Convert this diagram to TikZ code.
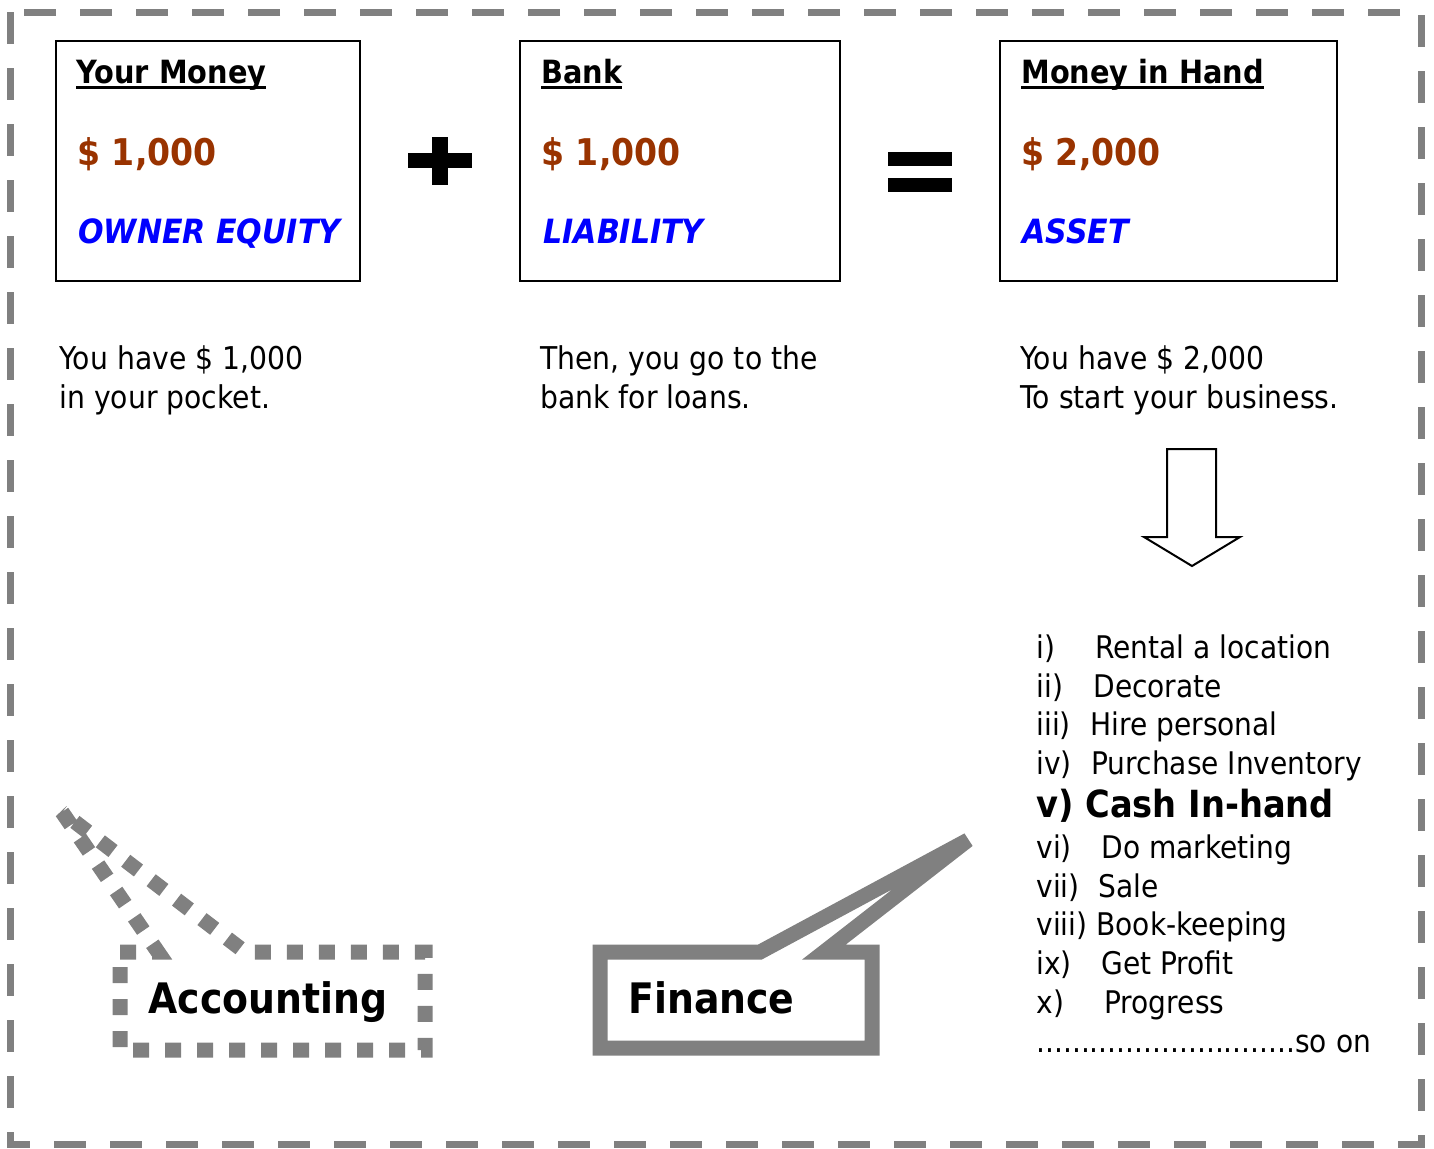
\documentclass[tikz,border=0pt]{standalone}
\usepackage{fontspec}
\setmainfont{DejaVu Sans}[FakeStretch=0.9]
\usepackage{xcolor}
\definecolor{cashbrown}{RGB}{153,51,0}
\definecolor{cashblue}{RGB}{0,0,255}
\definecolor{cashgray}{RGB}{128,128,128}
\newcommand{\ulined}[1]{\setbox0\hbox{#1}\rlap{\rule[-3pt]{\wd0}{1.5pt}}\box0}
\tikzset{
  moneybox/.style={rectangle, draw=black, line width=1pt, inner sep=0pt, minimum height=120pt},
  boxhead/.style={anchor=base west, inner sep=0pt, font=\fontsize{16}{19}\selectfont\bfseries},
  amount/.style={anchor=base west, inner sep=0pt, text=cashbrown, font=\fontsize{18.4}{21}\selectfont\bfseries},
  kind/.style={anchor=base west, inner sep=0pt, text=cashblue, font=\fontsize{16.7}{20}\selectfont\bfseries\itshape},
  note/.style={anchor=base west, inner sep=0pt, align=left, font=\fontsize{15.7}{19.3}\selectfont},
  listtext/.style={anchor=base west, inner sep=0pt, font=\fontsize{15.6}{19}\selectfont},
  calltext/.style={anchor=base west, inner sep=0pt, font=\fontsize{21}{25}\selectfont\bfseries},
  callline/.style={cashgray, line width=7.5pt}
}

\begin{document}
\begin{tikzpicture}[x=0.5pt, y=-0.5pt]
\useasboundingbox (0,0) rectangle (1434,1148);
% frame round everything
\draw[cashgray, line width=3.5pt, dash pattern=on 16pt off 12pt] (10,12) rectangle (1421,1144);

% the three boxes
\node[moneybox, minimum width=152pt] (own) at (208,161) {};
\node[moneybox, minimum width=160pt] (bank) at (680,161) {};
\node[moneybox, minimum width=168.5pt] (hand) at (1168.5,161) {};

\node[boxhead] (ownhead) at (76,83) {\ulined{Your Money}};
\node[amount] (ownamt) at (77,165) {\$ 1,000};
\node[kind] (ownkind) at (78,243) {OWNER EQUITY};

\node[boxhead] (bankhead) at (541,83) {\ulined{Bank}};
\node[amount] (bankamt) at (541,165) {\$ 1,000};
\node[kind] (bankkind) at (543,243) {LIABILITY};

\node[boxhead] (handhead) at (1021,83) {\ulined{Money in Hand}};
\node[amount] (handamt) at (1021,165) {\$ 2,000};
\node[kind] (handkind) at (1022,243) {ASSET};

% plus and equals
\fill (408,153) rectangle (472,168);
\fill (432,137) rectangle (448,185);
\fill (888,152) rectangle (952,166);
\fill (888,178) rectangle (952,192);

% notes under the boxes (anchored on the last line)
\node[note] (ownnote) at (59,408) {You have \$ 1,000\\in your pocket.};
\node[note] (banknote) at (540,408) {Then, you go to the\\bank for loans.};
\node[note] (handnote) at (1020,408) {You have \$ 2,000\\To start your business.};

% block arrow down
\draw[line width=1pt] (1167,449) -- (1216,449) -- (1216,537) -- (1240,537) -- (1192,566)
  -- (1144,537) -- (1167,537) -- cycle;

% list of steps
\foreach \lab/\txt/\tx/\ty [count=\k] in {i)/Rental a location/1095/658, ii)/Decorate/1093/697,
    iii)/Hire personal/1090/735, iv)/Purchase Inventory/1091/774, vi)/Do marketing/1101/858,
    vii)/Sale/1098/897, viii)/Book-keeping/1096/935, ix)/Get Profit/1101/974, x)/Progress/1104/1013}
{
  \node[listtext] (lab\k) at (1036,\ty) {\lab};
  \node[listtext] (step\k) at (\tx,\ty) {\txt};
}
\node[listtext, font=\fontsize{18.7}{22}\selectfont\bfseries] (cash) at (1036,817) {v) Cash In-hand};
\node[listtext] (soon) at (1036,1052) {.............................so on};

% callouts
\draw[callline, miter limit=4, dash pattern=on 8pt off 8pt] (120,952) -- (158,952) -- (62,812)
  -- (245,952) -- (425,952) -- (425,1050) -- (120,1050) -- cycle;
\node[calltext] (acc) at (148,1013) {Accounting};
\draw[callline] (600,952) -- (760,952) -- (968,840) -- (824,952)
  -- (872,952) -- (872,1048) -- (600,1048) -- cycle;
\node[calltext] (fin) at (628,1013) {Finance};
\end{tikzpicture}
\end{document}
